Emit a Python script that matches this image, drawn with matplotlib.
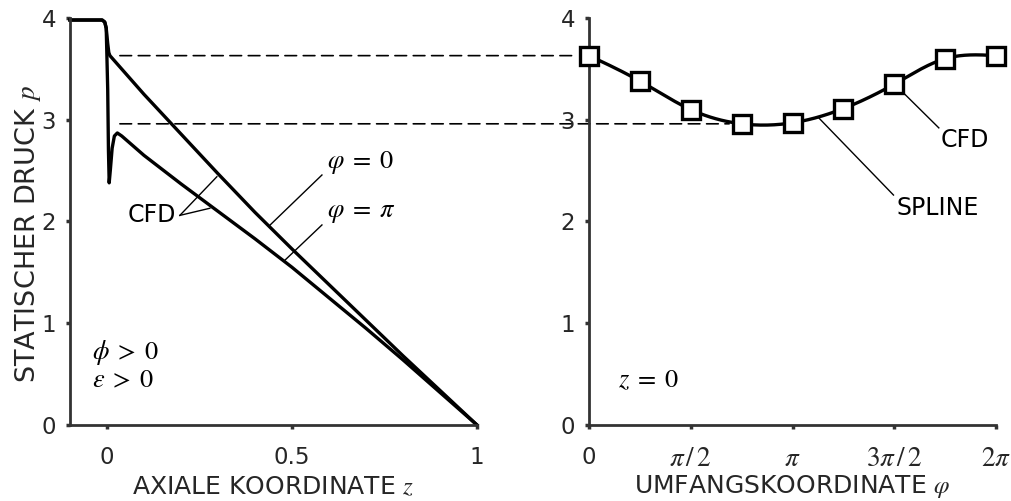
import numpy as np
import matplotlib
matplotlib.use("Agg")
import matplotlib.pyplot as plt
from matplotlib.patches import ConnectionPatch

plt.rcParams['font.family'] = ['DejaVu Sans']
plt.rcParams['mathtext.fontset'] = 'stix'

# linker Plot: statischer Druck ueber axialer Koordinate
z_phi0 = [-0.1, -0.013, -0.006, -0.002, 0.002, 0.005, 0.008,
          0.1, 0.2, 0.3, 0.4, 0.5, 0.6, 0.7, 0.8, 0.9, 1.0]
p_phi0 = [3.98, 3.98, 3.96, 3.90, 3.75, 3.66, 3.63,
          3.25, 2.86, 2.47, 2.09, 1.73, 1.38, 1.03, 0.68, 0.34, 0.0]

z_phipi = [-0.1, -0.013, -0.006, -0.002, 0.002, 0.004, 0.006, 0.009,
           0.014, 0.02, 0.028, 0.04, 0.1, 0.2, 0.3, 0.4, 0.5, 0.6,
           0.7, 0.8, 0.9, 1.0]
p_phipi = [3.98, 3.98, 3.96, 3.90, 3.30, 2.70, 2.38, 2.50,
           2.72, 2.84, 2.87, 2.84, 2.65, 2.37, 2.10, 1.83, 1.55, 1.25,
           0.95, 0.64, 0.32, 0.0]

# rechter Plot: CFD-Werte am Eintritt z = 0
phi_cfd = np.arange(9) * np.pi / 4
p_cfd = [3.63, 3.38, 3.10, 2.96, 2.97, 3.11, 3.35, 3.60, 3.63]

phi_ticks = [0, np.pi / 2, np.pi, 3 * np.pi / 2, 2 * np.pi]
phi_labels = ['0', r'$\pi\,/\,2$', r'$\pi$', r'$3\pi\,/\,2$', r'$2\pi$']


def natural_spline(x, y, xs):
    x = np.asarray(x, float)
    y = np.asarray(y, float)
    n = len(x)
    h = np.diff(x)
    A = np.zeros((n, n))
    r = np.zeros(n)
    A[0, 0] = 1
    A[-1, -1] = 1
    for i in range(1, n - 1):
        A[i, i - 1] = h[i - 1]
        A[i, i] = 2 * (h[i - 1] + h[i])
        A[i, i + 1] = h[i]
        r[i] = 3 * ((y[i + 1] - y[i]) / h[i] - (y[i] - y[i - 1]) / h[i - 1])
    c = np.linalg.solve(A, r)
    b = (y[1:] - y[:-1]) / h - h * (2 * c[:-1] + c[1:]) / 3
    d = (c[1:] - c[:-1]) / (3 * h)
    k = np.clip(np.searchsorted(x, xs) - 1, 0, n - 2)
    t = xs - x[k]
    return y[k] + b[k] * t + c[k] * t ** 2 + d[k] * t ** 3


spine_col = '#333333'
txt_col = '#262626'
fs_tick = 16.5
fs_lab = 18
fs_ann = 17
fs_math = 19

fig = plt.figure(figsize=(10.11, 5.01), dpi=100)
ax1 = fig.add_axes([0.0692, 0.1517, 0.4026, 0.8124])
ax2 = fig.add_axes([0.5826, 0.1517, 0.4026, 0.8124])

for ax in (ax1, ax2):
    ax.patch.set_facecolor('none')
    for s in ['top', 'right']:
        ax.spines[s].set_visible(False)
    for s in ['left', 'bottom']:
        ax.spines[s].set_linewidth(2.0)
        ax.spines[s].set_color(spine_col)
    ax.tick_params(direction='out', length=3, width=2.5, color=spine_col,
                   labelsize=fs_tick, labelcolor=txt_col)
    ax.tick_params(axis='y', pad=7)
    ax.tick_params(axis='x', pad=12)
    ax.set_ylim(0, 4)
    ax.set_yticks([0, 1, 2, 3, 4])

# --- links
ax1.plot(z_phi0, p_phi0, color='k', lw=2.4, solid_joinstyle='round', clip_on=False)
ax1.plot(z_phipi, p_phipi, color='k', lw=2.4, solid_joinstyle='round', clip_on=False)
ax1.set_xlim(-0.1, 1.0)
ax1.set_xticks([0, 0.5, 1])
ax1.set_xticklabels(['0', '0.5', '1'])
ax1.set_xlabel(r'AXIALE KOORDINATE $z$', fontsize=fs_lab, color=txt_col, va='center')
ax1.xaxis.set_label_coords(0.5, -0.152)
ax1.set_ylabel(r'STATISCHER DRUCK $p$', fontsize=19.5, color=txt_col, va='center')
ax1.yaxis.set_label_coords(-0.103, 0.469)

ax1.text(0.186, 2.06, 'CFD', fontsize=fs_ann, ha='right', va='center')
ax1.plot([0.197, 0.297], [2.06, 2.44], color='k', lw=1)
ax1.plot([0.197, 0.278], [2.06, 2.13], color='k', lw=1)
ax1.text(0.595, 2.575, r'$\varphi\;=\;0$', fontsize=fs_math, ha='left', va='center')
ax1.plot([0.581, 0.441], [2.457, 1.966], color='k', lw=1)
ax1.text(0.595, 2.09, r'$\varphi\;=\;\pi$', fontsize=fs_math, ha='left', va='center')
ax1.plot([0.581, 0.481], [1.966, 1.62], color='k', lw=1)
ax1.text(-0.04, 0.71, r'$\phi\;>\;0$', fontsize=fs_math, ha='left', va='center')
ax1.text(-0.04, 0.44, r'$\varepsilon\;>\;0$', fontsize=fs_math, ha='left', va='center')

# --- rechts
phi_fine = np.linspace(0, 2 * np.pi, 300)
ax2.plot(phi_fine, natural_spline(phi_cfd, p_cfd, phi_fine), color='k', lw=2.4)
ax2.plot(phi_cfd, p_cfd, 's', ms=13, mfc='white', mec='k', mew=2.4,
         clip_on=False, zorder=5)
ax2.set_xlim(0, 2 * np.pi)
ax2.set_xticks(phi_ticks)
ax2.set_xticklabels(phi_labels)
for lbl in ax2.get_xticklabels()[1:]:
    lbl.set_fontsize(19.5)
ax2.set_xlabel(r'UMFANGSKOORDINATE $\varphi$', fontsize=fs_lab, color=txt_col, va='center')
ax2.xaxis.set_label_coords(0.5, -0.152)

ax2.text(5.43, 2.80, 'CFD', fontsize=fs_ann, ha='left', va='center')
ax2.plot([4.86, 5.40], [3.26, 2.92], color='k', lw=1)
ax2.text(4.75, 2.13, 'SPLINE', fontsize=fs_ann, ha='left', va='center')
ax2.plot([3.544, 4.70], [3.02, 2.26], color='k', lw=1)
ax2.text(0.45, 0.44, r'$z\;=\;0$', fontsize=fs_math, ha='left', va='center')

# gestrichelte Verbindungen links -> rechts
for k in (0, 3):
    con = ConnectionPatch(xyA=(0.035, p_cfd[k]), coordsA=ax1.transData,
                          xyB=(phi_cfd[k], p_cfd[k]), coordsB=ax2.transData,
                          color='k', lw=1.2, linestyle=(0, (7, 4)),
                          shrinkA=0, shrinkB=9, zorder=0)
    fig.add_artist(con)

fig.savefig('out.png', dpi=100)
